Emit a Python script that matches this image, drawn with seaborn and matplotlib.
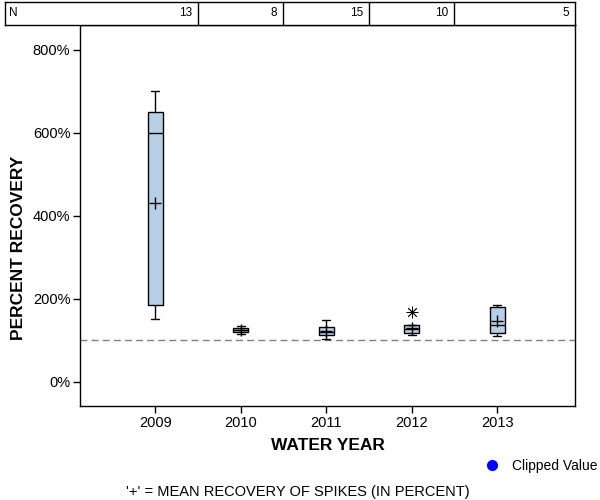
import numpy as np
import pandas as pd
import matplotlib
matplotlib.use('Agg')
import matplotlib.pyplot as plt
import seaborn as sns
from matplotlib.lines import Line2D

# box statistics (percent recovery)
years = ['2009', '2010', '2011', '2012', '2013']
n_counts = [13, 8, 15, 10, 5]
whisker_low = [152, 115, 103, 112, 110]
q1 = [185, 120, 112, 117, 117]
median = [600, 125, 120, 127, 137]
q3 = [650, 129, 132, 137, 180]
whisker_high = [700, 134, 149, 137, 185]
means = [431, 125, 123, 131, 148]
outlier_years = ['2012']
outlier_values = [169]

# five points per year -> quartiles land exactly on q1/median/q3
rows = []
for i, yr in enumerate(years):
    for v in [whisker_low[i], q1[i], median[i], q3[i], whisker_high[i]]:
        rows.append({'year': yr, 'value': v})
df = pd.DataFrame(rows)
mean_df = pd.DataFrame({'year': years, 'mean': means})
out_df = pd.DataFrame({'year': outlier_years, 'value': outlier_values})

sns.set_style('white')
plt.rcParams['font.family'] = ['Liberation Sans', 'DejaVu Sans']
plt.rcParams['text.color'] = 'black'
plt.rcParams['axes.labelcolor'] = 'black'
plt.rcParams['xtick.color'] = 'black'
plt.rcParams['ytick.color'] = 'black'

fig = plt.figure(figsize=(6, 5), dpi=100)
ax = fig.add_axes([80/600, 1-406/500, 495/600, 381/500])

sns.boxplot(data=df, x='year', y='value', order=years, whis=(0, 100), width=0.18,
            color='#b8cfe8', linecolor='black', linewidth=1, saturation=1, ax=ax)
sns.pointplot(data=mean_df, x='year', y='mean', order=years, markers='+', linestyles='none',
              color='black', markersize=9, markeredgewidth=1, errorbar=None, ax=ax)
sns.stripplot(data=out_df, x='year', y='value', order=years, marker=(8, 2, 0), jitter=False,
              color='black', size=8, linewidth=0.6, ax=ax)

ax.axhline(100, color='gray', linestyle=(0, (5, 3)), linewidth=1, zorder=0)

ax.set_xlim(-0.88, 4.91)
ax.set_ylim(-58, 860)
ax.set_yticks([0, 200, 400, 600, 800])
ax.set_yticklabels(['0%', '200%', '400%', '600%', '800%'])
ax.tick_params(axis='both', direction='out', length=5, width=1, labelsize=10.5,
               left=True, bottom=True, colors='black', pad=2)
for s in ax.spines.values():
    s.set_color('black')
    s.set_linewidth(1)

ax.set_xlabel('WATER YEAR', fontsize=12.5, fontweight='bold', color='black')
ax.set_ylabel('PERCENT RECOVERY', fontsize=12.5, fontweight='bold', color='black')
ax.xaxis.set_label_coords(0.5, -0.084)
ax.yaxis.set_label_coords(-0.109, 0.415)

# N table above the plot
hax = fig.add_axes([5/600, 1-25/500, 570/600, 23/500])
hax.set_xlim(-0.88 - 75/85.5, 4.91)
hax.set_ylim(0, 1)
hax.set_xticks([])
hax.set_yticks([])
for s in hax.spines.values():
    s.set_color('black')
    s.set_linewidth(1)
for b in np.arange(len(years) - 1) + 0.5:
    hax.axvline(b, color='black', linewidth=1)
hax.text(-0.88 - 75/85.5 + 0.05, 0.5, 'N', ha='left', va='center', fontsize=8.5)
right_edges = list(np.arange(len(years) - 1) + 0.5) + [4.91]
for edge, n in zip(right_edges, n_counts):
    hax.text(edge - 0.07, 0.5, str(n), ha='right', va='center', fontsize=8.5)

handle = Line2D([], [], marker='o', color='blue', linestyle='none', markersize=7)
fig.legend([handle], ['Clipped Value'], loc='center left', bbox_to_anchor=(466/600, 1-466/500),
           frameon=False, handletextpad=0.4, fontsize=10)
fig.text(298/600, 1-492/500, "'+' = MEAN RECOVERY OF SPIKES (IN PERCENT)",
         ha='center', va='center', fontsize=10.5)

fig.savefig('out.png', dpi=100)
